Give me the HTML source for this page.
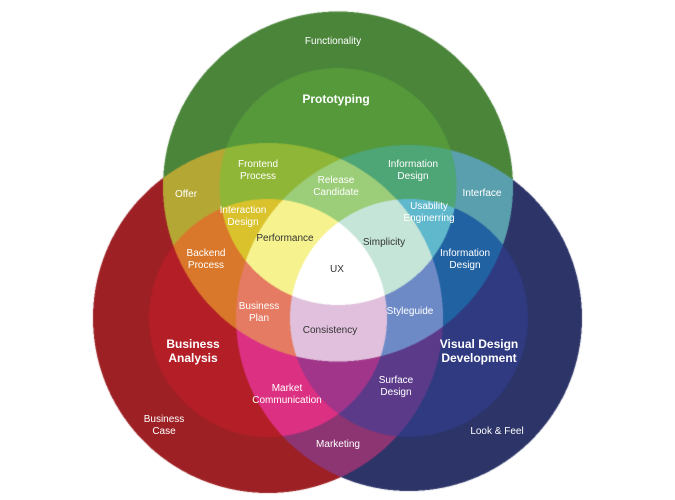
<!DOCTYPE html>
<html><head><meta charset="utf-8"><style>
html,body{margin:0;padding:0;background:#fff;}
#w{position:relative;width:675px;height:500px;overflow:hidden;}
canvas{position:absolute;left:0;top:0;}
.t{position:absolute;transform:translate(-50%,-50%);font-family:"Liberation Sans",sans-serif;font-size:10px;line-height:12px;color:#fff;text-align:center;white-space:nowrap;}
.d{color:#333;}
.b{font-weight:bold;font-size:12px;line-height:14px;}
</style></head><body><div id="w">
<canvas id="c" width="675" height="500"></canvas>
<div class="t" style="left:333px;top:42px">Functionality</div>
<div class="t b" style="left:336px;top:99px">Prototyping</div>
<div class="t" style="left:258px;top:171px">Frontend<br>Process</div>
<div class="t" style="left:336px;top:187px">Release<br>Candidate</div>
<div class="t" style="left:413px;top:171px">Information<br>Design</div>
<div class="t" style="left:186px;top:195px">Offer</div>
<div class="t" style="left:482px;top:194px">Interface</div>
<div class="t" style="left:243px;top:217px">Interaction<br>Design</div>
<div class="t" style="left:429px;top:213px">Usability<br>Enginerring</div>
<div class="t d" style="left:285px;top:239px">Performance</div>
<div class="t d" style="left:384px;top:243px">Simplicity</div>
<div class="t" style="left:206px;top:260px">Backend<br>Process</div>
<div class="t" style="left:465px;top:260px">Information<br>Design</div>
<div class="t d" style="left:337px;top:270px">UX</div>
<div class="t" style="left:259px;top:313px">Business<br>Plan</div>
<div class="t" style="left:410px;top:312px">Styleguide</div>
<div class="t d" style="left:330px;top:331px">Consistency</div>
<div class="t b" style="left:193px;top:351px">Business<br>Analysis</div>
<div class="t b" style="left:479px;top:351px">Visual Design<br>Development</div>
<div class="t" style="left:287px;top:395px">Market<br>Communication</div>
<div class="t" style="left:396px;top:387px">Surface<br>Design</div>
<div class="t" style="left:164px;top:426px">Business<br>Case</div>
<div class="t" style="left:338px;top:445px">Marketing</div>
<div class="t" style="left:497px;top:432px">Look &amp; Feel</div>
</div>
<script>
var C={
"100":"#4a853a","200":"#55993b","010":"#9d2024","020":"#b31e27","001":"#2c3468","002":"#2f3a80",
"110":"#b5a734","210":"#8fb636","120":"#d9782a","220":"#d9c22c","221":"#f6f38e",
"101":"#5a9fad","201":"#4ea576","102":"#2162a2","202":"#60b8cc",
"211":"#9ccd78","121":"#e57b62","112":"#6e8ac6","222":"#ffffff","212":"#c5e5d8","122":"#e0c0dc",
"011":"#8c3572","021":"#dc3082","012":"#5b3a8a","022":"#a0358a","111":"#a68ca0"};
function hx(h){return [parseInt(h.substr(1,2),16),parseInt(h.substr(3,2),16),parseInt(h.substr(5,2),16)];}
var P={};for(var k in C)P[k]=hx(C[k]);
var circ=[[338,186.5,175,118.5],[268,318,175,119],[409,318,173,119]];
function lev(x,y,c){var dx=x-c[0],dy=y-c[1],d=dx*dx+dy*dy;if(d<=c[3]*c[3])return 2;if(d<=c[2]*c[2])return 1;return 0;}
var cv=document.getElementById('c'),ctx=cv.getContext('2d');
var W=675,H=500,img=ctx.createImageData(W,H),D=img.data;
var S=[0.25,0.75];
for(var y=0;y<H;y++)for(var x=0;x<W;x++){
 var r=0,g=0,b=0;
 for(var i=0;i<2;i++)for(var j=0;j<2;j++){
  var px=x+S[i],py=y+S[j];
  var k=""+lev(px,py,circ[0])+lev(px,py,circ[1])+lev(px,py,circ[2]);
  var c=k=="000"?[255,255,255]:(P[k]||[160,140,160]);
  r+=c[0];g+=c[1];b+=c[2];
 }
 var o=(y*W+x)*4;D[o]=r/4;D[o+1]=g/4;D[o+2]=b/4;D[o+3]=255;
}
ctx.putImageData(img,0,0);
</script>
</body></html>
